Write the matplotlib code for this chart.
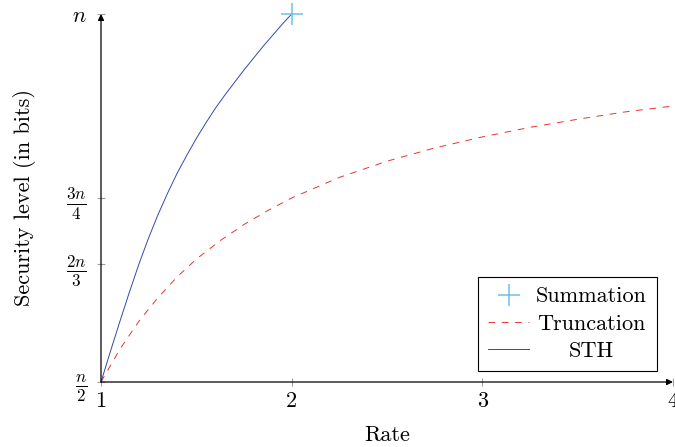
import matplotlib
matplotlib.use("Agg")
import matplotlib.pyplot as plt

plt.rcParams["font.family"] = ["cmr10", "DejaVu Serif"]
plt.rcParams["mathtext.fontset"] = "cm"
plt.rcParams["axes.formatter.use_mathtext"] = True
plt.rcParams["lines.scale_dashes"] = False

# values (security level as a fraction of n)
trunc_rate = [1.0, 1.1, 1.2, 1.3, 1.4, 1.5, 1.625, 1.75, 1.875, 2.0, 2.25, 2.5, 2.75,
              3.0, 3.25, 3.5, 3.75, 4.0]
trunc_sec = [0.5, 0.545, 0.583, 0.615, 0.643, 0.667, 0.692, 0.714, 0.733, 0.75, 0.778,
             0.8, 0.818, 0.833, 0.846, 0.857, 0.867, 0.875]

sth_rate = [1.0, 1.05, 1.1, 1.15, 1.2, 1.25, 1.3, 1.35, 1.4, 1.45, 1.5, 1.55, 1.6,
            1.65, 1.7, 1.75, 1.8, 1.85, 1.9, 1.95, 2.0]
sth_sec = [0.5, 0.542, 0.583, 0.623, 0.661, 0.696, 0.728, 0.757, 0.784, 0.808, 0.831,
           0.852, 0.872, 0.890, 0.907, 0.924, 0.940, 0.956, 0.971, 0.986, 1.0]

sum_rate = [2.0]
sum_sec = [1.0]

xtick_vals = [1, 2, 3, 4]
xtick_labels = ["1", "2", "3", "4"]
ytick_vals = [0.5, 0.66, 0.75, 1.0]
ytick_labels = [r"$\frac{n}{2}$", r"$\frac{2n}{3}$", r"$\frac{3n}{4}$", r"$n$"]

fig = plt.figure(figsize=(6.75, 4.47), dpi=100)
ax = fig.add_axes([101 / 675, 1 - 382 / 447, 572 / 675, 368 / 447])

ax.plot(sum_rate, sum_sec, linestyle="none", marker="+", markersize=16.5,
        markeredgewidth=1.1, color="#6ec1e4", label="Summation", clip_on=False, zorder=4)
ax.plot(trunc_rate, trunc_sec, color="#e8342e", linewidth=0.7, dashes=(4.8, 4.8),
        label="Truncation", clip_on=False)
ax.plot(sth_rate, sth_sec, color="#3448b0", linewidth=0.7, label="STH", clip_on=False)

ax.set_xlim(1, 4)
ax.set_ylim(0.5, 1.0)
ax.set_xticks(xtick_vals)
ax.set_xticklabels(xtick_labels)
ax.set_yticks(ytick_vals)
ax.set_yticklabels(ytick_labels)
ax.tick_params(axis="both", direction="inout", length=6, width=0.8, color="#a0a0a0",
               labelsize=16)
ax.tick_params(axis="x", pad=4)
ax.tick_params(axis="y", pad=7)
for lab in ax.get_yticklabels()[:3]:
    lab.set_fontsize(17.5)
ax.get_yticklabels()[3].set_fontsize(16)

for s in ["top", "right", "left", "bottom"]:
    ax.spines[s].set_visible(False)

# axis lines with arrow heads
arrow = dict(arrowstyle="-|>", color="black", lw=0.9, mutation_scale=9, shrinkA=0, shrinkB=0)
ax.annotate("", xy=(1, 0), xytext=(0, 0), xycoords="axes fraction", arrowprops=arrow)
ax.annotate("", xy=(0, 1), xytext=(0, 0), xycoords="axes fraction", arrowprops=arrow)

ax.set_xlabel("Rate", fontsize=16, labelpad=10)
ax.set_ylabel("Security level (in bits)", fontsize=16, labelpad=22)

leg = ax.legend(loc="lower right", bbox_to_anchor=(0.972, 0.03), borderaxespad=0,
                fontsize=16, fancybox=False, edgecolor="black", framealpha=1,
                handlelength=1.85, labelspacing=0.35, borderpad=0.45, handletextpad=0.3)
leg.get_frame().set_linewidth(0.8)

# centre the legend texts like pgfplots does
fig.canvas.draw()
texts = leg.get_texts()
widths = [t.get_window_extent().width for t in texts]
maxw = max(widths)
for t, w in zip(texts, widths):
    t.set_position(((maxw - w) / 2, 0))

fig.savefig("out.png", dpi=100)
